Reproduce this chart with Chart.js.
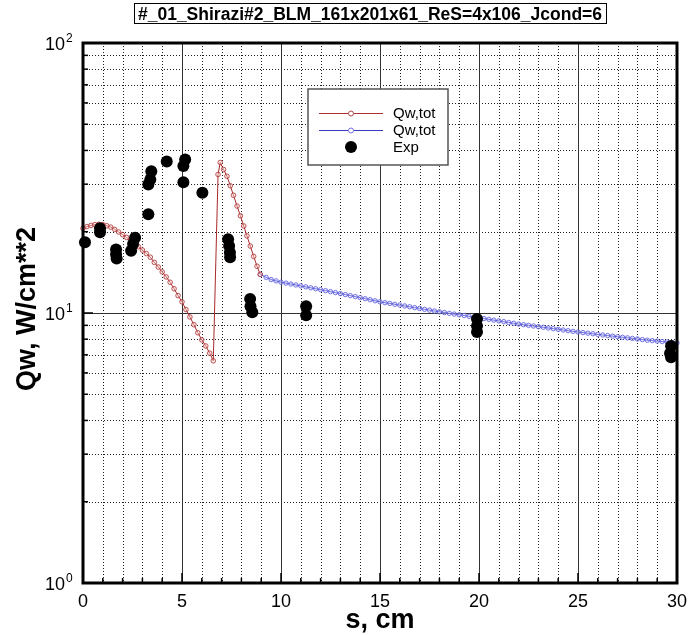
<!DOCTYPE html>
<html>
<head>
<meta charset="utf-8">
<script src="https://cdn.jsdelivr.net/npm/chart.js@4.4.0/dist/chart.umd.min.js"></script>
<style>
	body { margin: 0; background: #fff; }
	#wrap { width: 688px; height: 635px; }
</style>
</head>
<body>
<div id="wrap"><canvas id="myChart" width="688" height="635"></canvas></div>
<script>
// chart title + axis titles
const chartTitle = '#_01_Shirazi#2_BLM_161x201x61_ReS=4x106_Jcond=6';
const xTitle = 's, cm';
const yTitle = 'Qw, W/cm**2';

// ticks
const xMajor = [0, 5, 10, 15, 20, 25, 30];
const xMinor = [1, 2, 3, 4, 6, 7, 8, 9, 11, 12, 13, 14, 16, 17, 18, 19, 21, 22, 23, 24, 26, 27, 28, 29];
const yExp = [0, 1, 2];
const yMinor = [2, 3, 4, 5, 6, 7, 8, 9, 20, 30, 40, 50, 60, 70, 80, 90];

// Qw,tot (red)
const redS = [0, 0.2, 0.4, 0.6, 0.8, 1.0, 1.2, 1.4, 1.6, 1.8, 2.0, 2.2, 2.4, 2.6, 2.8, 3.0, 3.2, 3.4, 3.6, 3.8,
	4.0, 4.2, 4.4, 4.6, 4.8, 5.0, 5.2, 5.4, 5.6, 5.8, 6.0, 6.2, 6.4, 6.58, 6.82, 6.93,
	7.1, 7.27, 7.44, 7.6, 7.78, 7.95, 8.12, 8.28, 8.45, 8.62, 8.79, 8.95];
const redQ = [20.6, 20.9, 21.1, 21.25, 21.3, 21.25, 21.05, 20.8, 20.4, 19.95, 19.5, 19.05, 18.6, 18.1, 17.6, 17.1, 16.6, 16.1, 15.4, 14.8,
	14.2, 13.6, 13.0, 12.3, 11.6, 11.0, 10.3, 9.67, 9.05, 8.45, 7.95, 7.55, 7.1, 6.65, 32.6, 36.1,
	34.0, 32.1, 29.6, 27.3, 24.9, 22.9, 21.0, 19.3, 17.7, 16.2, 14.9, 13.9];

// Qw,tot (blue)
const blueS = [8.95, 9.25, 9.5, 9.75, 10, 10.25, 10.5, 10.75, 11, 11.25, 11.5, 11.75, 12, 12.25, 12.5, 12.75,
	13, 13.25, 13.5, 13.75, 14, 14.25, 14.5, 14.75, 15, 15.25, 15.5, 15.75, 16, 16.25, 16.5, 16.75,
	17, 17.25, 17.5, 17.75, 18, 18.25, 18.5, 18.75, 19, 19.25, 19.5, 19.75, 20, 20.25, 20.5, 20.75,
	21, 21.25, 21.5, 21.75, 22, 22.25, 22.5, 22.75, 23, 23.25, 23.5, 23.75, 24, 24.25, 24.5, 24.75,
	25, 25.25, 25.5, 25.75, 26, 26.25, 26.5, 26.75, 27, 27.25, 27.5, 27.75, 28, 28.25, 28.5, 28.75,
	29, 29.25, 29.5, 29.75, 30];
const blueQ = [13.9, 13.55, 13.3, 13.15, 13.0, 12.9, 12.8, 12.7, 12.6, 12.5, 12.4, 12.3, 12.2, 12.1, 12.0, 11.9,
	11.8, 11.7, 11.6, 11.5, 11.4, 11.3, 11.2, 11.1, 11.0, 10.92, 10.85, 10.77, 10.7, 10.62, 10.55, 10.47,
	10.4, 10.32, 10.25, 10.17, 10.1, 10.04, 9.97, 9.91, 9.85, 9.79, 9.72, 9.66, 9.6, 9.54, 9.47, 9.41,
	9.35, 9.29, 9.22, 9.16, 9.1, 9.05, 9.0, 8.95, 8.9, 8.85, 8.8, 8.75, 8.7, 8.65, 8.6, 8.55,
	8.5, 8.46, 8.42, 8.38, 8.33, 8.29, 8.25, 8.21, 8.17, 8.13, 8.09, 8.05, 8.01, 7.97, 7.93, 7.9,
	7.87, 7.84, 7.81, 7.78, 7.75];

// Exp (black dots)
const expS = [0.1, 0.86, 0.86, 1.67, 1.67, 1.7, 2.43, 2.53, 2.63, 3.3, 3.3, 3.4, 3.45, 4.23, 5.16, 5.07, 5.07, 6.03,
	7.33, 7.38, 7.42, 7.43, 8.44, 8.46, 8.55, 11.27, 11.27, 19.9, 19.9, 19.9, 29.7, 29.65, 29.7];
const expQ = [18.3, 20.6, 19.9, 17.2, 16.5, 15.9, 17.0, 18.0, 19.0, 23.2, 29.9, 31.2, 33.5, 36.4, 37.0, 35.0, 30.5, 27.9,
	18.75, 17.7, 16.75, 16.1, 11.26, 10.6, 10.06, 10.6, 9.8, 9.5, 8.95, 8.5, 7.55, 7.1, 6.85];

const toPts = (s, q) => s.map((v, i) => ({ x: v, y: q[i] }));

function hline(ctx, x1, x2, y) {
	ctx.beginPath(); ctx.moveTo(x1, y); ctx.lineTo(x2, y); ctx.stroke();
}
function vline(ctx, x, y1, y2) {
	ctx.beginPath(); ctx.moveTo(x, y1); ctx.lineTo(x, y2); ctx.stroke();
}
const crisp = (p) => Math.round(p) + 0.5;

// 격자, 축, 라벨은 직접 그린다
const frame = {
	id: 'frame',
	beforeDatasetsDraw(chart) {
		const ctx = chart.ctx, a = chart.chartArea, xs = chart.scales.x, ys = chart.scales.y;
		ctx.save();
		// dotted minor grid
		ctx.strokeStyle = '#222';
		ctx.lineWidth = 1;
		ctx.setLineDash([1, 2]);
		xMinor.forEach((v) => vline(ctx, crisp(xs.getPixelForValue(v)), a.top, a.bottom));
		yMinor.forEach((v) => hline(ctx, a.left, a.right, crisp(ys.getPixelForValue(v))));
		// solid major grid
		ctx.setLineDash([]);
		ctx.strokeStyle = '#333';
		xMajor.slice(1, -1).forEach((v) => vline(ctx, crisp(xs.getPixelForValue(v)), a.top, a.bottom));
		hline(ctx, a.left, a.right, crisp(ys.getPixelForValue(10)));
		ctx.restore();
	},
	afterDatasetsDraw(chart) {
		const ctx = chart.ctx, a = chart.chartArea, xs = chart.scales.x, ys = chart.scales.y;
		ctx.save();
		// ticks
		ctx.strokeStyle = '#000';
		ctx.lineWidth = 1.5;
		xMinor.forEach((v) => vline(ctx, xs.getPixelForValue(v), a.bottom, a.bottom - 5));
		xMajor.forEach((v) => vline(ctx, xs.getPixelForValue(v), a.bottom, a.bottom - 10));
		yMinor.forEach((v) => hline(ctx, a.left, a.left + 5, ys.getPixelForValue(v)));
		hline(ctx, a.left, a.left + 10, ys.getPixelForValue(10));
		// frame
		ctx.lineWidth = 3;
		ctx.strokeRect(a.left, a.top, a.right - a.left, a.bottom - a.top);

		// tick labels
		ctx.fillStyle = '#000';
		ctx.font = '18px "Liberation Sans", Arial, sans-serif';
		ctx.textAlign = 'center';
		ctx.textBaseline = 'alphabetic';
		xMajor.forEach((v) => ctx.fillText(String(v), xs.getPixelForValue(v), a.bottom + 24));
		yExp.forEach((e) => {
			const py = ys.getPixelForValue(Math.pow(10, e));
			ctx.font = '18px "Liberation Sans", Arial, sans-serif';
			ctx.textAlign = 'right';
			ctx.fillText('10', a.left - 18, py + 7);
			ctx.font = '12px "Liberation Sans", Arial, sans-serif';
			ctx.textAlign = 'left';
			ctx.fillText(String(e), a.left - 17, py - 1);
		});

		// axis titles
		ctx.font = 'bold 27px "Liberation Sans", Arial, sans-serif';
		ctx.textAlign = 'center';
		ctx.fillText(xTitle, (a.left + a.right) / 2, 628);
		ctx.save();
		ctx.translate(28, 309);
		ctx.rotate(-Math.PI / 2);
		ctx.textBaseline = 'middle';
		ctx.fillText(yTitle, 0, 0);
		ctx.restore();

		// title box
		ctx.font = 'bold 17.5px "Liberation Sans", Arial, sans-serif';
		const tw = ctx.measureText(chartTitle).width;
		const cx = 370;
		ctx.fillText(chartTitle, cx, 19.5);
		ctx.lineWidth = 1;
		ctx.strokeRect(crisp(cx - tw / 2 - 4), 3.5, Math.round(tw + 8), 20);

		// legend
		ctx.fillStyle = '#fff';
		ctx.fillRect(308, 89, 140, 76);
		ctx.strokeStyle = '#555';
		ctx.lineWidth = 1.5;
		ctx.strokeRect(308, 89, 140, 76);
		const rows = [
			{ y: 113, line: '#b03030', mark: '#b04848' },
			{ y: 130, line: '#3a3ac8', mark: '#7070dd' },
		];
		rows.forEach((r) => {
			ctx.strokeStyle = r.line;
			ctx.lineWidth = 1;
			hline(ctx, 319, 383, r.y + 0.5);
			ctx.strokeStyle = r.mark;
			ctx.fillStyle = '#fff';
			ctx.beginPath(); ctx.arc(351, r.y + 0.5, 2.5, 0, Math.PI * 2); ctx.fill(); ctx.stroke();
		});
		ctx.fillStyle = '#000';
		ctx.beginPath(); ctx.arc(351, 147, 6, 0, Math.PI * 2); ctx.fill();
		ctx.font = '15px "Liberation Sans", Arial, sans-serif';
		ctx.textAlign = 'left';
		ctx.fillText('Qw,tot', 393, 118);
		ctx.fillText('Qw,tot', 393, 135);
		ctx.fillText('Exp', 393, 152);
		ctx.restore();
	},
};

var chartArea = document.getElementById('myChart').getContext('2d');
var myChart = new Chart(chartArea, {
	type: 'scatter',
	data: {
		datasets: [
			{
				label: 'Exp',
				data: toPts(expS, expQ),
				showLine: false,
				pointRadius: 6,
				pointBackgroundColor: '#000',
				pointBorderWidth: 0,
				clip: false,
				order: 0,
			},
			{
				label: 'Qw,tot',
				data: toPts(redS, redQ),
				showLine: true,
				borderColor: '#a82828',
				borderWidth: 1,
				pointRadius: 2.3,
				pointBorderWidth: 1,
				pointBorderColor: 'rgba(176, 56, 56, 0.85)',
				pointBackgroundColor: 'rgba(255, 215, 215, 0.4)',
				clip: false,
				order: 1,
			},
			{
				label: 'Qw,tot',
				data: toPts(blueS, blueQ),
				showLine: true,
				borderColor: '#3030c0',
				borderWidth: 1,
				pointRadius: 2.2,
				pointBorderWidth: 1,
				pointBorderColor: 'rgba(95, 95, 225, 0.85)',
				pointBackgroundColor: 'rgba(215, 215, 255, 0.4)',
				clip: false,
				order: 2,
			},
		],
	},
	options: {
		responsive: false,
		animation: false,
		devicePixelRatio: 1,
		layout: { padding: { left: 83, right: 11, top: 43, bottom: 52 } },
		scales: {
			x: { type: 'linear', min: 0, max: 30, display: false },
			y: { type: 'logarithmic', min: 1, max: 100, display: false },
		},
		plugins: {
			legend: { display: false },
			tooltip: { enabled: false },
		},
	},
	plugins: [frame],
});
</script>
</body>
</html>
